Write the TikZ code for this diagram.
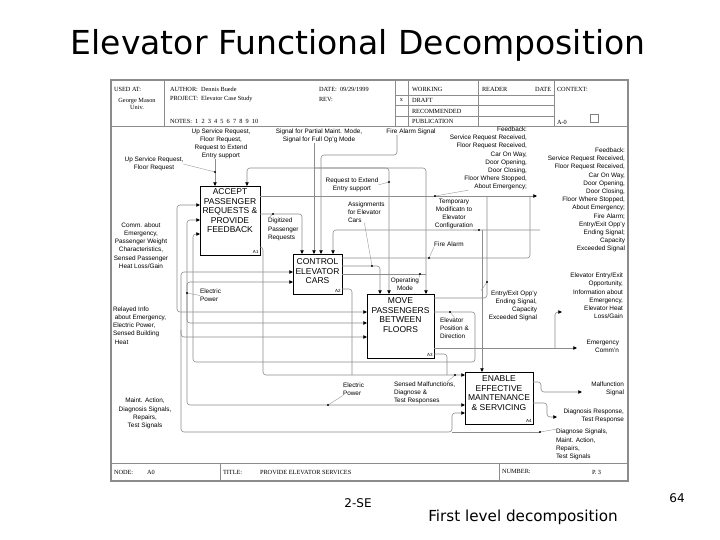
\documentclass[tikz,border=0pt]{standalone}
\usepackage{fontspec}
\setmainfont{Liberation Serif}
\setsansfont{Liberation Sans}
\newfontfamily\comicfont{DejaVu Sans}
\usepackage{tikz}
\usetikzlibrary{arrows.meta, positioning, calc}

\begin{document}
\begin{tikzpicture}[
  x=1pt, y=-1pt,
  every node/.style={inner sep=0pt, outer sep=0pt},
  proc/.style={draw, line width=0.7pt, fill=white},
  proctext/.style={anchor=north, align=center, font=\sffamily\fontsize{8.5}{9.4}\selectfont},
  boxid/.style={anchor=south east, inner sep=1.5pt, font=\sffamily\fontsize{4.5}{5}\selectfont},
  lbl/.style={align=center, font=\sffamily\fontsize{6.4}{8.2}\selectfont},
  hdr/.style={anchor=west, font=\rmfamily\fontsize{6.3}{6.8}\selectfont},
  rule/.style={draw=black!45, line width=0.6pt},
  frame/.style={draw=black!45, line width=1.3pt},
  wire/.style={draw=black!45, line width=0.6pt, rounded corners=3pt},
  flow/.style={wire, -{Triangle[length=3.6pt, width=3.4pt, color=black]}},
  lead/.style={draw=black!40, line width=0.4pt},
]
  \useasboundingbox (0,0) rectangle (720,540);

  % Title
  \node[font=\comicfont\fontsize{33}{36}\selectfont] (title) at (358,45)
       {Elevator Functional Decomposition};

  % Form frame, header and footer
  \draw[frame] (111,80) rectangle (628,481);
  \draw[rule] (111,126) -- (628,126);
  \foreach \x in {164,395,408,478,554} \draw[rule] (\x,80) -- (\x,126);
  \foreach \y in {95,105,116} \draw[rule] (395,\y) -- (554,\y);
  \draw[rule] (111,463) -- (628,463);
  \foreach \x in {220,499} \draw[rule] (\x,463) -- (\x,481);

  \node[hdr] (usedat) at (114,89) {USED AT:};
  \node[hdr, anchor=center, align=center] (site) at (137,104) {George Mason\\Univ.};
  \node[hdr] (author) at (170,89) {AUTHOR:\enspace Dennis Buede};
  \node[hdr] (project) at (170,99) {PROJECT:\enspace Elevator Case Study};
  \node[hdr] (notes) at (170,121)
       {NOTES:\enspace 1\enspace 2\enspace 3\enspace 4\enspace 5\enspace 6\enspace 7\enspace 8\enspace 9\enspace 10};
  \node[hdr] (date) at (319,89) {DATE:\enspace 09/29/1999};
  \node[hdr] (rev) at (319,99) {REV:};
  \node[hdr, anchor=center] (mark) at (401.5,100) {x};
  \node[hdr] (working) at (412,89) {WORKING};
  \node[hdr] (draft) at (412,100) {DRAFT};
  \node[hdr] (recomm) at (412,111) {RECOMMENDED};
  \node[hdr] (publ) at (412,121) {PUBLICATION};
  \node[hdr] (reader) at (482,89) {READER};
  \node[hdr] (rdate) at (535,89) {DATE};
  \node[hdr] (context) at (557,89) {CONTEXT:};
  \node[draw=black!50, line width=0.4pt, minimum size=8] (ctxbox) at (594,118) {};
  \node[hdr] (ctxnode) at (557,122) {A-0};

  \node[hdr] (nodelbl) at (114,472) {NODE:};
  \node[hdr] (nodeval) at (147,472) {A0};
  \node[hdr] (titlelbl) at (223,472) {TITLE:};
  \node[hdr] (titleval) at (260,472) {PROVIDE ELEVATOR SERVICES};
  \node[hdr] (numlbl) at (502,471) {NUMBER:};
  \node[hdr] (numval) at (592,472) {P.\ 3};

  % Activity boxes
  \node[proc, minimum width=60, minimum height=69] (A1) at (230,220.5) {};
  \node[proc, minimum width=49, minimum height=40] (A2) at (317.5,274) {};
  \node[proc, minimum width=67, minimum height=64] (A3) at (400.5,326) {};
  \node[proc, minimum width=68, minimum height=52] (A4) at (499,398) {};
  \node[proctext] (A1t) at ([yshift=-3]A1.north) {ACCEPT\\PASSENGER\\REQUESTS \&\\PROVIDE\\FEEDBACK};
  \node[proctext] (A2t) at ([yshift=-5]A2.north) {CONTROL\\ELEVATOR\\CARS};
  \node[proctext] (A3t) at ([yshift=-4]A3.north) {MOVE\\PASSENGERS\\BETWEEN\\FLOORS};
  \node[proctext] (A4t) at ([yshift=-4]A4.north) {ENABLE\\EFFECTIVE\\MAINTENANCE\\\& SERVICING};
  \foreach \b in {A1,A2,A3,A4} \node[boxid] (\b id) at (\b.south east) {\b};

  % Ports
  \coordinate (a1i1) at ($(A1.west)+(0,-15.5)$);
  \coordinate (a1i2) at ($(A1.west)+(0,-0.5)$);
  \coordinate (a1i3) at ($(A1.west)+(0,13.5)$);
  \coordinate (a1c1) at ($(A1.north)+(-15,0)$);
  \coordinate (a1c2) at ($(A1.north)+(17,0)$);
  \coordinate (a1o1) at ($(A1.east)+(0,-24.5)$);
  \coordinate (a1o2) at ($(A1.east)+(0,-6.5)$);
  \coordinate (a1o3) at ($(A1.east)+(0,26.5)$);
  \coordinate (a2i1) at ($(A2.west)+(0,-2)$);
  \coordinate (a2i2) at ($(A2.west)+(0,8)$);
  \coordinate (a2c1) at ($(A2.north)+(-15.5,0)$);
  \coordinate (a2c2) at ($(A2.north)+(-3.5,0)$);
  \coordinate (a2c3) at ($(A2.north)+(3.5,0)$);
  \coordinate (a2c4) at ($(A2.north)+(15.5,0)$);
  \coordinate (a2o1) at ($(A2.east)+(0,-16)$);
  \coordinate (a2o2) at ($(A2.east)+(0,-8)$);
  \coordinate (a2o3) at ($(A2.east)+(0,0)$);
  \coordinate (a2o4) at ($(A2.east)+(0,15)$);
  \coordinate (a3i1) at ($(A3.west)+(0,-14)$);
  \coordinate (a3i2) at ($(A3.west)+(0,-3)$);
  \coordinate (a3i3) at ($(A3.west)+(0,11)$);
  \coordinate (a3c1) at ($(A3.north)+(-20.5,0)$);
  \coordinate (a3c2) at ($(A3.north)+(-11.5,0)$);
  \coordinate (a3c3) at ($(A3.north)+(25.5,0)$);
  \coordinate (a3o1) at ($(A3.east)+(0,-28)$);
  \coordinate (a3o2) at ($(A3.east)+(0,-14)$);
  \coordinate (a3o3) at ($(A3.east)+(0,22)$);
  \coordinate (a3o4) at ($(A3.east)+(0,28)$);
  \coordinate (a4i1) at ($(A4.west)+(0,-23)$);
  \coordinate (a4i2) at ($(A4.west)+(0,7)$);
  \coordinate (a4i3) at ($(A4.west)+(0,15)$);
  \coordinate (a4c1) at ($(A4.north)+(-17,0)$);
  \coordinate (a4o2) at ($(A4.east)+(0,-16)$);
  \coordinate (a4o3) at ($(A4.east)+(0,5)$);

  % Junctions and free ends
  \coordinate (omb) at (314,168);
  \coordinate (fa1) at (397,155);
  \coordinate (fbk) at (537,196);
  \coordinate (fbj1) at (530,196);
  \coordinate (fbj2) at (487,196);
  \coordinate (tms) at (540,230);
  \coordinate (tmj) at (482,230);
  \coordinate (opj) at (426,274);
  \coordinate (sm1) at (263,375);
  \coordinate (sm2) at (352,375);
  \coordinate (sm3) at (447,375);
  \coordinate (ce) at (177,250);
  \coordinate (ri) at (181,330);
  \coordinate (ep) at (187,293);
  \coordinate (mt1) at (452,432);
  \coordinate (mt2) at (540,432);
  \coordinate (lp1) at (475,362);
  \coordinate (lp2) at (193,362);
  \coordinate (emc) at (577,348);
  \coordinate (eeb) at (555,348);
  \coordinate (eea) at (562,312);
  \coordinate (mf1) at (541,392);
  \coordinate (mfa) at (582,392);
  \coordinate (dr1) at (547,417);
  \coordinate (dra) at (557,417);

  % Labels on the diagram
  \node[lbl] (upreqL) at (154,164) {Up Service Request,\\Floor Request};
  \node[lbl] (upreq) at (221,144) {Up Service Request,\\Floor Request,\\Request to Extend\\Entry support};
  \node[lbl] (opm) at (319,136) {Signal for Partial Maint. Mode,\\Signal for Full Op'g Mode};
  \node[lbl] (fas) at (411,132) {Fire Alarm Signal};
  \node[lbl, align=right, anchor=east] (fbtop) at (527,158.5)
       {Feedback:\\Service Request Received,\\Floor Request Received,\\Car On Way,\\Door Opening,\\Door Closing,\\Floor Where Stopped,\\About Emergency;};
  \node[lbl, align=right, anchor=east] (fbout) at (625,200)
       {Feedback:\\Service Request Received,\\Floor Request Received,\\Car On Way,\\Door Opening,\\Door Closing,\\Floor Where Stopped,\\About Emergency;\\Fire Alarm;\\Entry/Exit Opp'y\\Ending Signal;\\Capacity\\Exceeded Signal};
  \node[lbl] (rte) at (352,185) {Request to Extend\\Entry support};
  \node[lbl, align=left, anchor=west] (asg) at (348,212) {Assignments\\for Elevator\\Cars};
  \node[lbl] (tmp) at (454,214) {Temporary\\Modificatn to\\Elevator\\Configuration};
  \node[lbl] (fal) at (449,244) {Fire Alarm};
  \node[lbl, align=left, anchor=west] (dpr) at (268,229.5) {Digitized\\Passenger\\Requests};
  \node[lbl] (comm) at (141,245.5) {Comm. about\\Emergency,\\Passenger Weight\\Characteristics,\\Sensed Passenger\\Heat Loss/Gain};
  \node[lbl, align=left, anchor=west] (epw) at (200,295.5) {Electric\\Power};
  \node[lbl, align=left, anchor=west] (rly) at (113,325.5) {Relayed Info\\\ about Emergency,\\Electric Power,\\Sensed Building\\\ Heat};
  \node[lbl] (opmode) at (405,284) {Operating\\Mode};
  \node[lbl, align=right, anchor=east] (eex) at (537,306) {Entry/Exit Opp'y\\Ending Signal,\\Capacity\\Exceeded Signal};
  \node[lbl, align=left, anchor=west] (pos) at (440,328) {Elevator\\Position \&\\Direction};
  \node[lbl, align=right, anchor=east] (eeo) at (623,296) {Elevator Entry/Exit\\Opportunity,\\Information about\\Emergency,\\Elevator Heat\\Loss/Gain};
  \node[lbl, align=right, anchor=east] (emg) at (619,346) {Emergency\\Comm'n};
  \node[lbl, align=left, anchor=west] (epw2) at (343,389) {Electric\\Power};
  \node[lbl, align=left, anchor=west] (smf) at (394,393) {Sensed Malfunctions,\\Diagnose \&\\Test Responses};
  \node[lbl, align=right, anchor=east] (mfs) at (624,388.5) {Malfunction\\Signal};
  \node[lbl, align=right, anchor=east] (drs) at (624,416) {Diagnosis Response,\\Test Response};
  \node[lbl, align=left, anchor=west] (dsg) at (556,444.5) {Diagnose Signals,\\Maint. Action,\\Repairs,\\Test Signals};
  \node[lbl] (mnt) at (145,413.5) {Maint. Action,\\Diagnosis Signals,\\Repairs,\\Test Signals};

  % Controls from the top
  \draw[flow] (upreq.south -| a1c1) -- (a1c1);
  \draw[flow] (opm.south -| omb) -- (a2c2);
  \draw[flow] (omb) -| (a1c2);
  \draw[flow] (omb) -| (a3c2);
  \draw[flow] (omb) -| (a3c3);
  \draw[flow] (fas.south -| fa1) -- (fa1) -| (a2c3);
  \draw[flow] (tms) -| (a2c4);
  \draw[flow] (tmj) -- (a4c1);

  % Flows between activities
  \draw[flow] (a1o1) -- (fbk);
  \draw[flow] (a1o2) -| (a2c1);
  \draw[wire] (a2o1) -| (fbj1);
  \draw[flow] (a2o2) -| (a3c1);
  \draw[wire] (a2o3) -- (opj);
  \draw[wire] (a3o1) -| (fbj2);
  \draw[flow] (a3o2) -| (lp1) -- (lp2) |- (a1i3);
  \draw[flow] (a1o3) -| (sm1) -- (a4i1);
  \draw[wire] (a2o4) -| (sm2);
  \draw[wire] (a3o4) -| (sm3);

  % Inputs from the left
  \draw[flow] (ce) |- (a1i1);
  \draw[flow] (ce) |- (a3i1);
  \draw[flow] (ri) |- (a2i1);
  \draw[flow] (ri) |- (a3i3);
  \draw[flow] (ri) |- (mt1) |- (a4i3);
  \draw[wire] (mt1) -- (mt2);
  \foreach \p in {a1i2,a2i2,a3i2,a4i2} \draw[flow] (ep) |- (\p);

  % Outputs to the right
  \draw[flow] (a3o3) -- (emc);
  \draw[flow] (eeb) |- (eea);
  \draw[flow] (a4o2) -| (mf1) -- (mfa);
  \draw[flow] (a4o3) -| (dr1) -- (dra);

  % Label leaders
  \draw[lead] (upreqL.east) -- (215,172);
  \draw[lead] ([xshift=-20]fbtop.south) -- (435,196);
  \draw[lead] (rte.east) -- (389,182);
  \draw[lead] ([xshift=-2]asg.south) -- (372,266);
  \draw[lead] ([yshift=-1]tmp.south east) -- (479,230);
  \draw[lead] (fal.south west) -- (429,258);
  \draw[lead] (dpr.north west) -- (273,214);
  \draw[lead] (epw.west) -- (ep);
  \draw[lead] (opmode.north east) -- (420,274);
  \draw[lead] ([xshift=-8]eex.north west) -- (487,282);
  \draw[lead] (pos.north) -- (450,312);
  \draw[lead] (epw2.south west) -- (328,405);
  \draw[lead] ([xshift=-8]smf.north east) -- (455,375);
  \draw[lead] (dsg.north west) -- (mt2);
  \foreach \p in {{215,172},{435,196},{389,182},{372,266},{479,230},{429,258},
                  {273,214},{187,293},{420,274},{487,282},{450,312},{328,405},
                  {455,375},{540,432}}
    \fill (\p) circle (1.1);

  % Slide footer
  \node[font=\comicfont\fontsize{12}{14}\selectfont] (course) at (358,503) {2-SE};
  \node[font=\comicfont\fontsize{15.2}{17}\selectfont] (caption) at (523,517) {First level decomposition};
  \node[font=\comicfont\fontsize{12}{14}\selectfont] (pageno) at (677,498) {64};
\end{tikzpicture}
\end{document}
